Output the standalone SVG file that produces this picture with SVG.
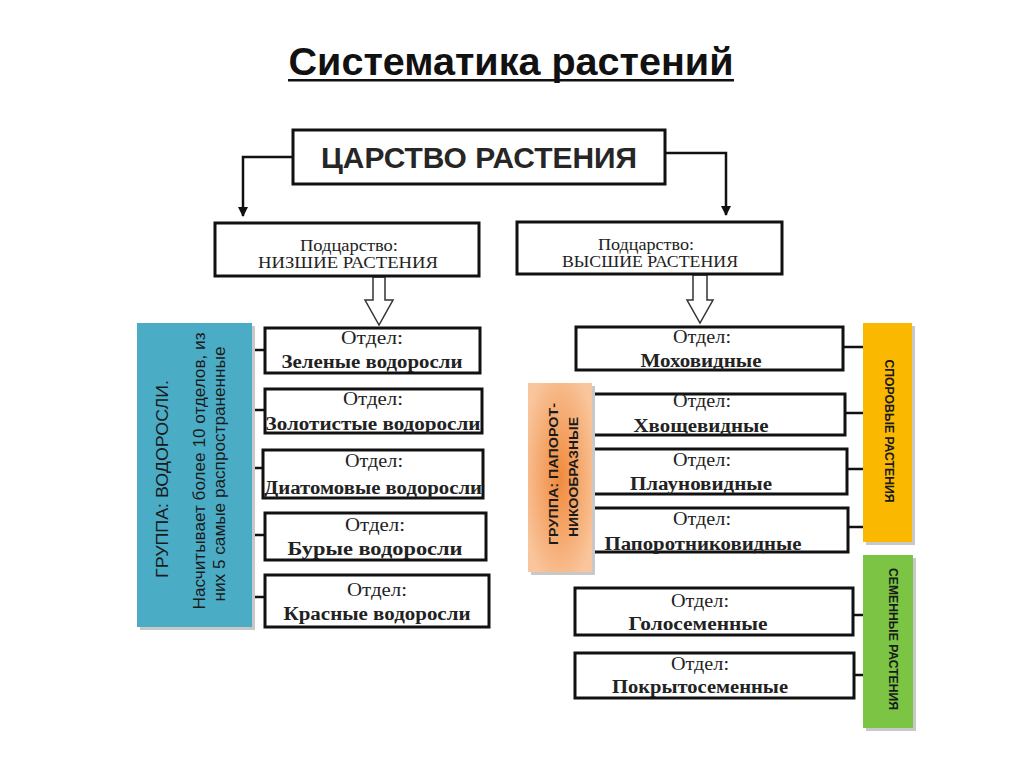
<svg xmlns="http://www.w3.org/2000/svg" width="1024" height="767" viewBox="0 0 1024 767">
<style>
.box{fill:#fff;stroke:#111;stroke-width:3}
.con{fill:none;stroke:#111;stroke-width:2.5}
.hollow{fill:#fff;stroke:#333;stroke-width:1.5}
.lbl{font-family:"Liberation Serif","Times New Roman",serif;font-size:18px;fill:#222;text-anchor:middle}
.nm{font-family:"Liberation Serif","Times New Roman",serif;font-size:18px;font-weight:bold;fill:#222;text-anchor:middle}
.sub{font-family:"Liberation Serif","Times New Roman",serif;font-size:17px;fill:#222;text-anchor:middle}
.vt{font-family:"Liberation Sans",Arial,sans-serif;text-anchor:middle;fill:#1a1a1a}
.shadow{fill:#c8c8c8}
</style>
<defs>
<marker id="ah" viewBox="0 0 10 10" refX="9" refY="5" markerWidth="4" markerHeight="4" orient="auto" markerUnits="strokeWidth">
<path d="M0,0 L10,5 L0,10 z" fill="#111"/>
</marker>
<radialGradient id="og" cx="0.5" cy="0.5" r="0.6">
<stop offset="0" stop-color="#f08a3c"/>
<stop offset="1" stop-color="#f9c59c"/>
</radialGradient>
</defs>
<rect width="1024" height="767" fill="#fff"/>

<g id="title">
<text x="511" y="75" font-family="Liberation Sans,Arial,sans-serif" font-size="39" font-weight="bold" text-anchor="middle" fill="#111" textLength="445" lengthAdjust="spacingAndGlyphs">Систематика растений</text>
<rect x="288" y="79" width="446" height="2.5" fill="#111"/>
</g>

<g id="connectors">
<polyline class="con" points="293,157 243,157 243,216" marker-end="url(#ah)"/>
<polyline class="con" points="666,153 726,153 726,215" marker-end="url(#ah)"/>
<path class="hollow" d="M373,277 L385,277 L385,300 L393,300 L379,325 L365,300 L373,300 z"/>
<path class="hollow" d="M693,275 L707,275 L707,300 L713,300 L700,323 L687,300 L693,300 z"/>
<line class="con" x1="240" y1="350" x2="265" y2="350"/>
<line class="con" x1="240" y1="410" x2="265" y2="410"/>
<line class="con" x1="240" y1="468" x2="263" y2="468"/>
<line class="con" x1="240" y1="535" x2="265" y2="535"/>
<line class="con" x1="240" y1="597" x2="265" y2="597"/>
<line class="con" x1="843" y1="347" x2="864" y2="347"/>
<line class="con" x1="845" y1="413" x2="864" y2="413"/>
<line class="con" x1="847" y1="469" x2="864" y2="469"/>
<line class="con" x1="848" y1="527" x2="864" y2="527"/>
<line class="con" x1="853" y1="615" x2="866" y2="615"/>
<line class="con" x1="854" y1="675" x2="866" y2="675"/>
</g>

<g id="kingdom">
<rect class="box" x="293" y="130" width="372" height="54"/>
<text x="479" y="168" font-family="Liberation Sans,Arial,sans-serif" font-size="29" font-weight="bold" text-anchor="middle" fill="#262626" textLength="316" lengthAdjust="spacingAndGlyphs">ЦАРСТВО РАСТЕНИЯ</text>
</g>

<g id="sub-lower">
<rect class="box" x="215" y="223" width="264" height="53"/>
<text class="sub" x="349" y="251" textLength="98" lengthAdjust="spacingAndGlyphs">Подцарство:</text>
<text class="sub" x="348" y="268" textLength="180" lengthAdjust="spacingAndGlyphs">НИЗШИЕ РАСТЕНИЯ</text>
</g>

<g id="sub-higher">
<rect class="box" x="517" y="222" width="265" height="52"/>
<text class="sub" x="646" y="250" textLength="96" lengthAdjust="spacingAndGlyphs">Подцарство:</text>
<text class="sub" x="650" y="267" textLength="176" lengthAdjust="spacingAndGlyphs">ВЫСШИЕ РАСТЕНИЯ</text>
</g>

<g id="group-algae">
<rect class="shadow" x="140" y="326" width="115" height="304"/>
<rect x="137" y="323" width="115" height="304" fill="#4bacc6"/>
<text class="vt" transform="translate(168,479) rotate(-90)" font-size="17" textLength="198" lengthAdjust="spacingAndGlyphs">ГРУППА: ВОДОРОСЛИ.</text>
<text class="vt" transform="translate(205,471) rotate(-90)" font-size="17" textLength="277" lengthAdjust="spacingAndGlyphs">Насчитывает более 10 отделов, из</text>
<text class="vt" transform="translate(225,474) rotate(-90)" font-size="17" textLength="255" lengthAdjust="spacingAndGlyphs">них 5 самые распространенные</text>
</g>

<g id="green-algae">
<rect class="box" x="265" y="328" width="215" height="45"/>
<text class="lbl" x="372" y="344" textLength="62" lengthAdjust="spacingAndGlyphs">Отдел:</text>
<text class="nm" x="372" y="368" textLength="181" lengthAdjust="spacingAndGlyphs">Зеленые водоросли</text>
</g>
<g id="golden-algae">
<rect class="box" x="265" y="389" width="217" height="44"/>
<text class="lbl" x="373" y="405" textLength="60" lengthAdjust="spacingAndGlyphs">Отдел:</text>
<text class="nm" x="373" y="430" textLength="215" lengthAdjust="spacingAndGlyphs">Золотистые водоросли</text>
</g>
<g id="diatom-algae">
<rect class="box" x="263" y="450" width="220" height="48"/>
<text class="lbl" x="374" y="467" textLength="58" lengthAdjust="spacingAndGlyphs">Отдел:</text>
<text class="nm" x="373" y="494" textLength="218" lengthAdjust="spacingAndGlyphs">Диатомовые водоросли</text>
</g>
<g id="brown-algae">
<rect class="box" x="265" y="513" width="221" height="47"/>
<text class="lbl" x="375" y="531" textLength="60" lengthAdjust="spacingAndGlyphs">Отдел:</text>
<text class="nm" x="375" y="555" textLength="175" lengthAdjust="spacingAndGlyphs">Бурые водоросли</text>
</g>
<g id="red-algae">
<rect class="box" x="265" y="575" width="224" height="52"/>
<text class="lbl" x="377" y="596" textLength="60" lengthAdjust="spacingAndGlyphs">Отдел:</text>
<text class="nm" x="377" y="620" textLength="187" lengthAdjust="spacingAndGlyphs">Красные водоросли</text>
</g>

<g id="mosses">
<rect class="box" x="576" y="327" width="267" height="43"/>
<text class="lbl" x="702" y="343" textLength="58" lengthAdjust="spacingAndGlyphs">Отдел:</text>
<text class="nm" x="701" y="367" textLength="121" lengthAdjust="spacingAndGlyphs">Моховидные</text>
</g>
<g id="horsetails">
<rect class="box" x="583" y="394" width="262" height="41"/>
<text class="lbl" x="702" y="407" textLength="58" lengthAdjust="spacingAndGlyphs">Отдел:</text>
<text class="nm" x="701" y="432" textLength="135" lengthAdjust="spacingAndGlyphs">Хвощевидные</text>
</g>
<g id="clubmosses">
<rect class="box" x="583" y="449" width="264" height="45"/>
<text class="lbl" x="702" y="466" textLength="58" lengthAdjust="spacingAndGlyphs">Отдел:</text>
<text class="nm" x="701" y="490" textLength="142" lengthAdjust="spacingAndGlyphs">Плауновидные</text>
</g>
<g id="ferns">
<rect class="box" x="583" y="508" width="265" height="44"/>
<text class="lbl" x="702" y="525" textLength="58" lengthAdjust="spacingAndGlyphs">Отдел:</text>
<text class="nm" x="703" y="550" textLength="197" lengthAdjust="spacingAndGlyphs">Папоротниковидные</text>
</g>

<g id="group-ferns">
<rect class="shadow" x="531" y="386" width="64" height="189"/>
<rect x="528" y="383" width="64" height="189" fill="url(#og)"/>
<text class="vt" transform="translate(558,474) rotate(-90)" font-size="13" font-weight="bold" textLength="142" lengthAdjust="spacingAndGlyphs">ГРУППА: ПАПОРОТ-</text>
<text class="vt" transform="translate(578,477) rotate(-90)" font-size="13" font-weight="bold" textLength="120" lengthAdjust="spacingAndGlyphs">НИКООБРАЗНЫЕ</text>
</g>

<g id="gymnosperms">
<rect class="box" x="575" y="588" width="278" height="47"/>
<text class="lbl" x="700" y="607" textLength="58" lengthAdjust="spacingAndGlyphs">Отдел:</text>
<text class="nm" x="698" y="630" textLength="139" lengthAdjust="spacingAndGlyphs">Голосеменные</text>
</g>
<g id="angiosperms">
<rect class="box" x="575" y="653" width="279" height="45"/>
<text class="lbl" x="700" y="670" textLength="58" lengthAdjust="spacingAndGlyphs">Отдел:</text>
<text class="nm" x="700" y="693" textLength="176" lengthAdjust="spacingAndGlyphs">Покрытосеменные</text>
</g>

<g id="spore-plants">
<rect class="shadow" x="866" y="326" width="49" height="219"/>
<rect x="863" y="323" width="49" height="219" fill="#fbb800"/>
<text class="vt" transform="translate(885,431) rotate(90)" font-size="12" font-weight="bold" textLength="143" lengthAdjust="spacingAndGlyphs">СПОРОВЫЕ РАСТЕНИЯ</text>
</g>

<g id="seed-plants">
<rect class="shadow" x="866" y="558" width="50" height="173"/>
<rect x="863" y="555" width="50" height="173" fill="#7cc443"/>
<text class="vt" transform="translate(889,639) rotate(90)" font-size="12" font-weight="bold" textLength="142" lengthAdjust="spacingAndGlyphs">СЕМЕННЫЕ РАСТЕНИЯ</text>
</g>
</svg>
